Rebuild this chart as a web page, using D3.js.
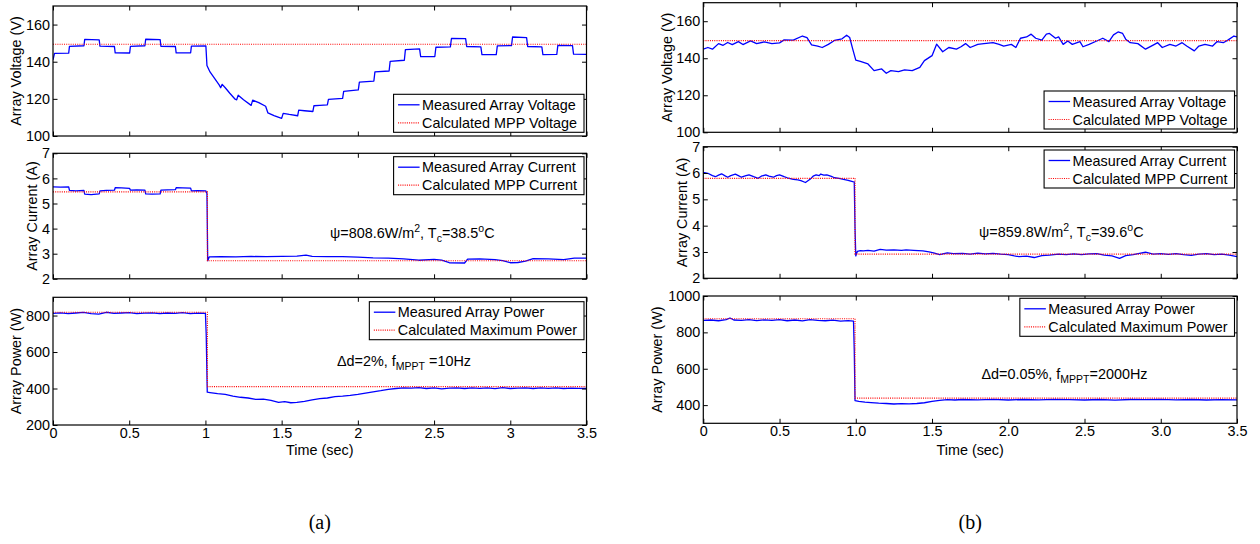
<!DOCTYPE html>
<html>
<head>
<meta charset="utf-8">
<script src="https://cdn.jsdelivr.net/npm/d3@7"></script>
<style>
  body { margin: 0; background: #fff; }
  svg { display: block; }
  text { font-family: "Liberation Sans", Arial, Helvetica, sans-serif; fill: #000; }
</style>
</head>
<body>
<svg id="fig" width="1260" height="544"></svg>
<script>
// ---------------- data ----------------
const timeTicks = [0, 0.5, 1, 1.5, 2, 2.5, 3, 3.5];
const timeLabelsA = ["0", "0.5", "1", "1.5", "2", "2.5", "3", "3.5"];
const timeLabelsB = ["0", "0.5", "1.0", "1.5", "2.0", "2.5", "3.0", "3.5"];
const voltageTicks = [100, 120, 140, 160];
const currentTicks = [2, 3, 4, 5, 6, 7];
const powerTicksA = [200, 400, 600, 800];
const powerTicksB = [400, 600, 800, 1000];

// (a) delta d = 2 %, f_MPPT = 10 Hz  — [time s, value]
const measVoltageA = [
  [0,141],[0.01,144.5],[0.103,144.6],[0.108,148.3],[0.203,148.6],[0.208,152],[0.303,151.8],[0.308,148.4],
  [0.403,148.2],[0.408,144.8],[0.503,144.7],[0.508,148.3],[0.603,148.6],[0.608,152.1],[0.703,151.9],
  [0.708,148.3],[0.803,148.2],[0.808,144.8],[0.903,144.8],[0.908,148.4],[1.003,148.5],[1.01,138],
  [1.03,134.5],[1.06,131],[1.09,127.5],[1.1,126],[1.11,127.8],[1.13,126],[1.16,123],[1.195,119.8],
  [1.205,119.5],[1.215,122],[1.25,119.5],[1.3,116.5],[1.31,119.3],[1.35,118],[1.395,116],[1.41,112.4],
  [1.45,111],[1.5,109.5],[1.51,112.2],[1.55,111.6],[1.605,110.9],[1.612,113.9],[1.65,113.6],[1.705,113.2],
  [1.712,116.3],[1.75,116.5],[1.8,116.8],[1.807,119.7],[1.9,120.3],[1.907,124],[2.003,124.8],[2.01,129],
  [2.105,129.6],[2.112,134.5],[2.205,135],[2.212,140.2],[2.305,140.8],[2.312,146.5],[2.405,146.9],
  [2.412,142.7],[2.505,142.8],[2.512,147.8],[2.607,148],[2.614,152.5],[2.707,152.4],[2.714,148.2],
  [2.807,148],[2.814,143.8],[2.908,143.8],[2.915,148.5],[3.008,148.7],[3.015,153.3],[3.107,153],
  [3.114,148.2],[3.207,148],[3.214,143.8],[3.305,143.9],[3.312,148.8],[3.408,148.7],[3.415,144.1],[3.5,144]
];
const mppVoltageA = [[0,149.4],[3.5,149.4]];
const measCurrentA = [
  [0,5.66],[0.05,5.65],[0.103,5.66],[0.108,5.52],[0.15,5.5],[0.203,5.52],[0.208,5.37],[0.25,5.35],
  [0.303,5.38],[0.308,5.5],[0.35,5.52],[0.403,5.53],[0.408,5.63],[0.45,5.62],[0.503,5.6],[0.508,5.53],
  [0.55,5.54],[0.603,5.53],[0.608,5.38],[0.65,5.37],[0.703,5.38],[0.708,5.53],[0.75,5.54],[0.803,5.55],
  [0.808,5.63],[0.85,5.62],[0.903,5.61],[0.908,5.5],[0.95,5.51],[1.003,5.5],[1.01,5.4],[1.015,2.72],
  [1.025,2.87],[1.1,2.88],[1.2,2.87],[1.3,2.89],[1.4,2.88],[1.5,2.89],[1.6,2.9],[1.66,2.94],[1.7,2.89],
  [1.8,2.88],[1.9,2.88],[2.0,2.86],[2.1,2.83],[2.2,2.82],[2.3,2.79],[2.4,2.74],[2.5,2.77],[2.55,2.74],
  [2.6,2.64],[2.7,2.63],[2.72,2.78],[2.8,2.79],[2.9,2.76],[2.95,2.72],[3.0,2.64],[3.05,2.65],[3.1,2.7],
  [3.15,2.8],[3.25,2.79],[3.35,2.76],[3.42,2.82],[3.5,2.82]
];
const mppCurrentA = [[0,5.46],[1.013,5.46],[1.013,2.72],[3.5,2.72]];
const measPowerA = [
  [0,812],[0.05,815],[0.1,811],[0.15,814],[0.2,817],[0.25,810],[0.3,808],[0.35,818],[0.4,812],[0.45,814],
  [0.5,816],[0.55,811],[0.6,813],[0.65,815],[0.7,810],[0.75,814],[0.8,812],[0.85,816],[0.9,811],[0.95,813],
  [1.0,812],[1.005,700],[1.012,380],[1.03,378],[1.08,372],[1.13,368],[1.18,358],[1.23,352],[1.28,348],
  [1.33,340],[1.38,342],[1.43,335],[1.48,324],[1.52,328],[1.56,322],[1.6,324],[1.65,330],[1.7,338],
  [1.75,345],[1.8,348],[1.85,355],[1.9,358],[1.95,362],[2.0,368],[2.05,375],[2.1,382],[2.15,388],
  [2.2,395],[2.25,400],[2.3,404],[2.35,402],[2.4,405],[2.45,400],[2.5,403],[2.55,398],[2.6,402],
  [2.65,404],[2.7,400],[2.75,403],[2.8,401],[2.85,404],[2.9,399],[2.95,405],[3.0,400],[3.05,402],
  [3.1,403],[3.15,400],[3.2,404],[3.25,401],[3.3,403],[3.35,400],[3.4,402],[3.45,401],[3.5,400]
];
const mppPowerA = [[0,818],[1.013,818],[1.013,410],[3.5,410]];

// (b) delta d = 0.05 %, f_MPPT = 2000 Hz
const measVoltageB = [
  [0,144.9],[0.03,145.8],[0.06,144.9],[0.1,147.9],[0.13,147.0],[0.16,148.5],[0.19,147.4],[0.23,149.0],
  [0.26,147.4],[0.31,149.4],[0.35,147.9],[0.4,148.8],[0.45,147.9],[0.5,148.3],[0.53,149.9],[0.59,149.8],
  [0.65,152.0],[0.68,151.1],[0.71,147.2],[0.75,146.6],[0.78,145.8],[0.82,147.5],[0.86,149.6],[0.91,150.5],
  [0.94,152.4],[0.96,151.2],[0.98,144.9],[1.0,139.0],[1.03,138.3],[1.08,136.9],[1.12,133.3],[1.17,134.2],
  [1.2,131.9],[1.23,133.3],[1.28,132.8],[1.32,133.7],[1.37,133.3],[1.42,135.1],[1.45,138.7],[1.5,141.4],
  [1.53,147.6],[1.57,143.5],[1.61,145.8],[1.66,144.9],[1.69,146.2],[1.72,147.9],[1.75,145.8],[1.8,147.5],
  [1.84,147.9],[1.9,148.4],[1.94,147.5],[1.97,146.6],[2.02,147.5],[2.05,145.8],[2.08,150.8],[2.12,151.5],
  [2.15,153.0],[2.18,150.8],[2.22,149.8],[2.25,153.0],[2.27,153.4],[2.31,150.8],[2.33,151.5],[2.36,147.5],
  [2.39,149.3],[2.42,147.5],[2.47,149.0],[2.49,146.2],[2.53,147.5],[2.58,149.3],[2.62,150.8],[2.66,149.0],
  [2.69,152.6],[2.72,154.2],[2.75,153.4],[2.77,150.3],[2.8,148.4],[2.85,147.9],[2.9,144.9],[2.95,147.1],
  [2.98,148.4],[3.01,145.8],[3.06,147.5],[3.1,146.6],[3.14,148.4],[3.17,146.6],[3.22,144.0],[3.25,146.6],
  [3.29,147.5],[3.34,146.6],[3.37,149.0],[3.41,148.4],[3.44,149.8],[3.48,152.0],[3.5,151.5]
];
const mppVoltageB = [[0,149.5],[3.5,149.5]];
const measCurrentB = [
  [0,6.02],[0.03,5.99],[0.06,5.9],[0.08,5.86],[0.1,5.92],[0.12,5.97],[0.14,5.9],[0.16,5.84],[0.18,5.9],
  [0.21,5.96],[0.23,5.9],[0.25,5.84],[0.28,5.9],[0.3,5.93],[0.33,5.86],[0.36,5.8],[0.38,5.88],[0.41,5.93],
  [0.43,5.88],[0.46,5.84],[0.48,5.9],[0.5,5.93],[0.53,5.86],[0.55,5.82],[0.59,5.76],[0.62,5.74],[0.64,5.71],
  [0.67,5.64],[0.7,5.76],[0.72,5.88],[0.74,5.93],[0.76,5.9],[0.77,5.96],[0.79,5.92],[0.81,5.93],[0.84,5.87],
  [0.86,5.82],[0.89,5.8],[0.92,5.76],[0.95,5.72],[0.98,5.67],[0.99,5.66],[0.995,3.9],[1.0,2.85],[1.01,3.02],
  [1.03,3.05],[1.05,3.04],[1.08,3.06],[1.12,3.03],[1.16,3.1],[1.2,3.07],[1.25,3.08],[1.3,3.06],[1.33,3.08],
  [1.38,3.06],[1.44,3.04],[1.48,3.0],[1.51,2.97],[1.55,2.9],[1.6,2.97],[1.64,2.94],[1.7,2.95],[1.75,2.92],
  [1.8,2.96],[1.85,2.93],[1.9,2.95],[1.95,2.92],[2.0,2.9],[2.04,2.85],[2.07,2.82],[2.12,2.84],[2.17,2.79],
  [2.22,2.86],[2.27,2.88],[2.33,2.92],[2.38,2.9],[2.43,2.93],[2.48,2.9],[2.53,2.93],[2.58,2.94],[2.63,2.88],
  [2.68,2.85],[2.73,2.76],[2.77,2.86],[2.82,2.9],[2.86,2.95],[2.9,2.99],[2.95,2.92],[3.0,2.94],[3.05,2.91],
  [3.1,2.94],[3.15,2.9],[3.2,2.87],[3.25,2.92],[3.3,2.94],[3.35,2.9],[3.4,2.92],[3.45,2.88],[3.5,2.82]
];
const mppCurrentB = [[0,5.8],[0.995,5.8],[0.995,2.92],[3.5,2.92]];
const measPowerB = [
  [0,866],[0.05,868],[0.1,864],[0.15,870],[0.175,879],[0.2,868],[0.25,866],[0.3,870],[0.35,865],[0.4,869],
  [0.45,866],[0.5,870],[0.55,864],[0.6,868],[0.65,863],[0.7,870],[0.75,866],[0.8,864],[0.85,867],[0.9,862],
  [0.95,865],[0.985,862],[0.99,700],[0.995,425],[1.02,420],[1.06,416],[1.1,414],[1.15,411],[1.2,409],
  [1.25,406],[1.3,408],[1.35,407],[1.4,409],[1.45,413],[1.5,420],[1.55,426],[1.6,430],[1.65,428],
  [1.7,431],[1.8,429],[1.9,432],[2.0,428],[2.1,431],[2.2,429],[2.3,432],[2.4,430],[2.5,428],[2.6,431],
  [2.7,427],[2.8,431],[2.9,430],[3.0,432],[3.1,429],[3.2,431],[3.3,428],[3.4,430],[3.5,429]
];
const mppPowerB = [[0,875],[0.995,875],[0.995,438],[3.5,438]];

const legendVoltage = ["Measured Array Voltage", "Calculated MPP Voltage"];
const legendCurrent = ["Measured Array Current", "Calculated MPP Current"];
const legendPower = ["Measured Array Power", "Calculated Maximum Power"];

// annotation text pieces: [text, mode]  mode: "" normal, "sup", "sub"
const noteCurrentA = [["ψ=808.6W/m",""],["2","sup"],[", T",""],["c","sub"],["=38.5",""],["o","sup"],["C",""]];
const noteCurrentB = [["ψ=859.8W/m",""],["2","sup"],[", T",""],["c","sub"],["=39.6",""],["o","sup"],["C",""]];
const notePowerA = [["Δd=2%, f",""],["MPPT","sub"],[" =10Hz",""]];
const notePowerB = [["Δd=0.05%, f",""],["MPPT","sub"],["=2000Hz",""]];

// ---------------- drawing ----------------
const svg = d3.select("#fig");
const FS = 14.4;
const BLUE = "#0000ff", RED = "#ff0000";
let clipId = 0;

function subplot(g, L, row) {
  const x = d3.scaleLinear().domain([0, 3.5]).range([L.x0, L.x1]);
  const y = d3.scaleLinear().domain(row.domain).range([row.bot, row.top]);
  const id = "clip" + (clipId++);
  g.append("clipPath").attr("id", id).append("rect")
    .attr("x", L.x0).attr("y", row.top).attr("width", L.x1 - L.x0).attr("height", row.bot - row.top);

  const line = d3.line().x(d => x(d[0])).y(d => y(d[1]));
  const plot = g.append("g").attr("clip-path", `url(#${id})`);
  plot.append("path").datum(row.meas).attr("d", line)
    .attr("fill", "none").attr("stroke", BLUE).attr("stroke-width", 1.3).attr("stroke-linejoin", "round");
  plot.append("path").datum(row.calc).attr("d", line)
    .attr("fill", "none").attr("stroke", RED).attr("stroke-width", 1.2).attr("stroke-dasharray", "1,1.2");

  // ticks on all four sides, pointing inward
  const styleAxis = a => {
    a.select(".domain").remove();
    a.attr("font-size", null).attr("font-family", null);
    a.selectAll("line").attr("stroke", "#000").attr("stroke-width", 1);
    a.selectAll("text").attr("font-size", FS);
  };
  g.append("g").attr("transform", `translate(${L.x0},0)`)
    .call(d3.axisLeft(y).tickValues(row.ticks).tickSize(-4.5).tickSizeOuter(0).tickPadding(3).tickFormat(d3.format("d")))
    .call(styleAxis);
  g.append("g").attr("transform", `translate(${L.x1},0)`)
    .call(d3.axisRight(y).tickValues(row.ticks).tickSize(-4.5).tickSizeOuter(0).tickFormat(""))
    .call(styleAxis);
  g.append("g").attr("transform", `translate(0,${row.bot})`)
    .call(d3.axisBottom(x).tickValues(timeTicks).tickSize(-4.5).tickSizeOuter(0).tickPadding(2.5)
      .tickFormat((d, i) => row.xLabels ? row.xLabels[i] : ""))
    .call(styleAxis);
  g.append("g").attr("transform", `translate(0,${row.top})`)
    .call(d3.axisTop(x).tickValues(timeTicks).tickSize(-4.5).tickSizeOuter(0).tickFormat(""))
    .call(styleAxis);

  g.append("rect").attr("x", L.x0).attr("y", row.top)
    .attr("width", L.x1 - L.x0).attr("height", row.bot - row.top)
    .attr("fill", "none").attr("stroke", "#000").attr("stroke-width", 1.2);

  // y label
  g.append("text")
    .attr("transform", `translate(${row.labelX},${(row.top + row.bot) / 2}) rotate(-90)`)
    .attr("text-anchor", "middle").attr("font-size", FS).text(row.label);

  // legend
  const lg = g.append("g");
  const box = lg.append("rect").attr("fill", "#fff").attr("stroke", "#000").attr("stroke-width", 1.1);
  const texts = row.legend.map((s, i) =>
    lg.append("text").attr("font-size", FS).attr("y", row.legendTop + 10.5 + 18 * i + 5).text(s));
  const w = d3.max(texts, t => t.node().getComputedTextLength());
  const boxW = 28.5 + w + 7;
  const left = L.x1 - 2.5 - boxW;
  box.attr("x", left).attr("y", row.legendTop).attr("width", boxW).attr("height", 38);
  texts.forEach(t => t.attr("x", left + 28.5));
  lg.append("line").attr("x1", left + 4.5).attr("x2", left + 26)
    .attr("y1", row.legendTop + 10.5).attr("y2", row.legendTop + 10.5)
    .attr("stroke", BLUE).attr("stroke-width", 1.3);
  lg.append("line").attr("x1", left + 4.5).attr("x2", left + 26)
    .attr("y1", row.legendTop + 28.5).attr("y2", row.legendTop + 28.5)
    .attr("stroke", RED).attr("stroke-width", 1.2).attr("stroke-dasharray", "1,1.2");

  // annotation
  if (row.note) {
    const t = g.append("text").attr("x", row.noteX).attr("y", row.noteY).attr("font-size", FS);
    let shift = 0;
    row.note.forEach(([s, mode]) => {
      const target = mode === "sup" ? -6 : mode === "sub" ? 4 : 0;
      t.append("tspan").attr("dy", target - shift)
        .attr("font-size", mode ? 10.5 : FS).text(s);
      shift = target;
    });
  }
}

const panels = [
  {
    x0: 53, x1: 586.5, tag: "(a)", xLabels: timeLabelsA,
    rows: [
      { top: 6, bot: 136, domain: [100, 170], ticks: voltageTicks, meas: measVoltageA, calc: mppVoltageA,
        label: "Array Voltage (V)", labelX: 20.5, legend: legendVoltage, legendTop: 94.3 },
      { top: 153.3, bot: 278.8, domain: [2, 7], ticks: currentTicks, meas: measCurrentA, calc: mppCurrentA,
        label: "Array Current (A)", labelX: 37, legend: legendCurrent, legendTop: 156.7,
        note: noteCurrentA, noteX: 330, noteY: 237.5 },
      { top: 297.3, bot: 425, domain: [200, 900], ticks: powerTicksA, meas: measPowerA, calc: mppPowerA,
        label: "Array Power (W)", labelX: 20.5, legend: legendPower, legendTop: 301.7,
        note: notePowerA, noteX: 337, noteY: 366, xLabels: timeLabelsA }
    ]
  },
  {
    x0: 703.3, x1: 1237, tag: "(b)", xLabels: timeLabelsB,
    rows: [
      { top: 2.7, bot: 132.3, domain: [100, 170], ticks: voltageTicks, meas: measVoltageB, calc: mppVoltageB,
        label: "Array Voltage (V)", labelX: 671.5, legend: legendVoltage, legendTop: 91 },
      { top: 146.7, bot: 278.3, domain: [2, 7], ticks: currentTicks, meas: measCurrentB, calc: mppCurrentB,
        label: "Array Current (A)", labelX: 686.5, legend: legendCurrent, legendTop: 150,
        note: noteCurrentB, noteX: 979, noteY: 236.7 },
      { top: 296, bot: 423.3, domain: [300, 1000], ticks: powerTicksB, meas: measPowerB, calc: mppPowerB,
        label: "Array Power (W)", labelX: 662, legend: legendPower, legendTop: 298.3,
        note: notePowerB, noteX: 981.5, noteY: 379, xLabels: timeLabelsB }
    ]
  }
];

panels.forEach(P => {
  const g = svg.append("g");
  P.rows.forEach(row => subplot(g, P, row));
  const cx = (P.x0 + P.x1) / 2;
  g.append("text").attr("x", cx).attr("y", 455).attr("text-anchor", "middle")
    .attr("font-size", FS).text("Time (sec)");
  g.append("text").attr("x", cx).attr("y", 529).attr("text-anchor", "middle")
    .attr("font-size", 20).style("font-family", '"Liberation Serif", "Times New Roman", serif')
    .text(P.tag);
});
</script>
</body>
</html>
